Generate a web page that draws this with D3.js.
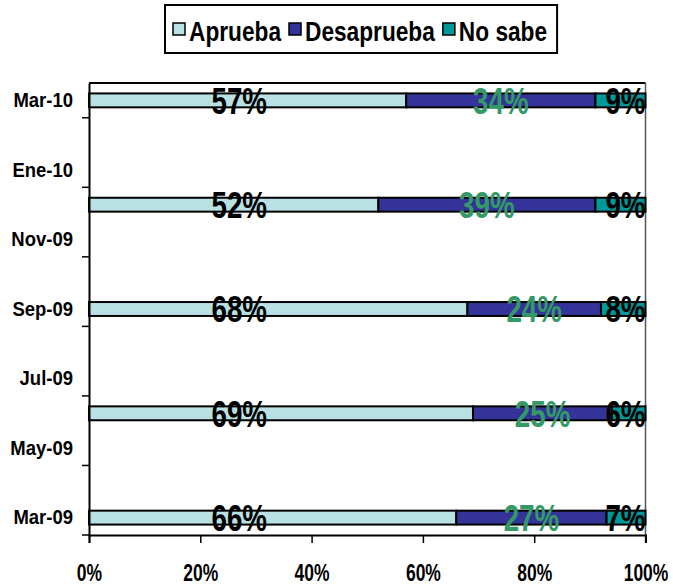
<!DOCTYPE html>
<html>
<head>
<meta charset="utf-8">
<script src="https://cdn.jsdelivr.net/npm/d3@7"></script>
<style>
  body { margin: 0; background: #fff; }
  svg text { font-family: "Liberation Sans", Arial, sans-serif; font-weight: bold; }
</style>
</head>
<body>
<div id="chart"></div>
<script>
// months on the axis (bottom to top), the labelled ones, and the survey months
const months = ["Mar-09", "Abr-09", "May-09", "Jun-09", "Jul-09", "Ago-09", "Sep-09",
  "Oct-09", "Nov-09", "Dic-09", "Ene-10", "Feb-10", "Mar-10"];
const tickMonths = ["Mar-09", "May-09", "Jul-09", "Sep-09", "Nov-09", "Ene-10", "Mar-10"];
const surveys = ["Mar-09", "Jun-09", "Sep-09", "Dic-09", "Mar-10"];
const aprueba = [66, 69, 68, 52, 57];
const desaprueba = [27, 25, 24, 39, 34];
const noSabe = [7, 6, 8, 9, 9];
const seriesNames = ["Aprueba", "Desaprueba", "No sabe"];
const xTicks = [0, 20, 40, 60, 80, 100];

const colors = ["#b9e1e4", "#333399", "#009999"];
const labelColors = ["#000", "#339966", "#000"];

const width = 673, height = 585;
const margin = { top: 83, right: 27.5, bottom: 50, left: 89 };

// squeeze text horizontally, no narrow font is installed
function narrow(sel, f) {
  sel.each(function () {
    const w = this.getComputedTextLength();
    d3.select(this).attr("textLength", w * f).attr("lengthAdjust", "spacingAndGlyphs");
  });
}

const svg = d3.select("#chart").append("svg")
  .attr("width", width)
  .attr("height", height);

const x = d3.scaleLinear()
  .domain([0, 100])
  .range([margin.left, width - margin.right]);
const y = d3.scaleBand()
  .domain(months)
  .range([height - margin.bottom, margin.top]);
const barH = y.bandwidth() * 0.4;

// stack the three series
const rows = surveys.map((m, i) => ({ m, Aprueba: aprueba[i], Desaprueba: desaprueba[i], "No sabe": noSabe[i] }));
const stacked = d3.stack().keys(seriesNames)(rows);

// plot frame: top and right
svg.append("line")
  .attr("x1", x(0)).attr("x2", x(100))
  .attr("y1", margin.top).attr("y2", margin.top)
  .attr("stroke", "#000").attr("stroke-width", 2);
svg.append("line")
  .attr("x1", x(100)).attr("x2", x(100))
  .attr("y1", margin.top).attr("y2", height - margin.bottom + 8)
  .attr("stroke", "#555").attr("stroke-width", 1.5);

// bars
const layers = svg.append("g").selectAll("g")
  .data(stacked)
  .join("g")
  .attr("fill", (d, i) => colors[i]);
layers.selectAll("rect")
  .data((d) => d)
  .join("rect")
  .attr("x", (d) => x(d[0]))
  .attr("width", (d) => x(d[1]) - x(d[0]))
  .attr("y", (d) => y(d.data.m) + y.bandwidth() / 2 - barH / 2)
  .attr("height", barH)
  .attr("stroke", "#000")
  .attr("stroke-width", 2);

// value labels
const fs = 37;
stacked.forEach((layer, i) => {
  svg.append("g").selectAll("text")
    .data(layer)
    .join("text")
    .attr("x", (d) => {
      if (i === 0) return x(27);
      if (i === 1) return x((d[0] + d[1]) / 2);
      return x(100);
    })
    .attr("y", (d) => y(d.data.m) + y.bandwidth() / 2 + fs * 0.716 / 2)
    .attr("text-anchor", i === 2 ? "end" : "middle")
    .attr("font-size", fs)
    .attr("fill", labelColors[i])
    .text((d) => d[1] - d[0] + "%")
    .call(narrow, 0.75);
});

// y axis
const yAxis = svg.append("g")
  .attr("transform", `translate(${margin.left},0)`)
  .call(d3.axisLeft(y).tickValues(tickMonths).tickSize(0).tickPadding(16));
yAxis.select(".domain").attr("stroke", "#000").attr("stroke-width", 2);
yAxis.selectAll("text").attr("font-size", 21).attr("fill", "#000")
  .attr("font-family", null)
  .call(narrow, 0.88);
yAxis.selectAll(".tickmark")
  .data(tickMonths)
  .join("line")
  .attr("class", "tickmark")
  .attr("x1", -7).attr("x2", 0)
  .attr("y1", (m) => y(m) + y.bandwidth())
  .attr("y2", (m) => y(m) + y.bandwidth())
  .attr("stroke", "#000").attr("stroke-width", 1.5);

// x axis
const xAxis = svg.append("g")
  .attr("transform", `translate(0,${height - margin.bottom})`)
  .call(d3.axisBottom(x).tickValues(xTicks).tickFormat((d) => d + "%").tickSize(8).tickPadding(22));
xAxis.select(".domain").attr("stroke", "#000").attr("stroke-width", 2);
xAxis.selectAll("line").attr("stroke", "#000").attr("stroke-width", 1.5);
xAxis.selectAll("text").attr("font-size", 23).attr("fill", "#000")
  .attr("font-family", null)
  .call(narrow, 0.76);

// legend
const legend = svg.append("g");
const legendBox = legend.append("rect")
  .attr("x", 165).attr("y", 5)
  .attr("height", 48)
  .attr("fill", "#fff")
  .attr("stroke", "#000").attr("stroke-width", 2);
let lx = 173;
seriesNames.forEach((name, i) => {
  legend.append("rect")
    .attr("x", lx).attr("y", 23)
    .attr("width", 12).attr("height", 12)
    .attr("fill", colors[i])
    .attr("stroke", "#000").attr("stroke-width", 1.5);
  const t = legend.append("text")
    .attr("x", lx + 16).attr("y", 41)
    .attr("font-size", 27)
    .text(name)
    .call(narrow, 0.84);
  lx += 16 + +t.attr("textLength") + 8;
});
legendBox.attr("width", lx - 165 + 2);
</script>
</body>
</html>
